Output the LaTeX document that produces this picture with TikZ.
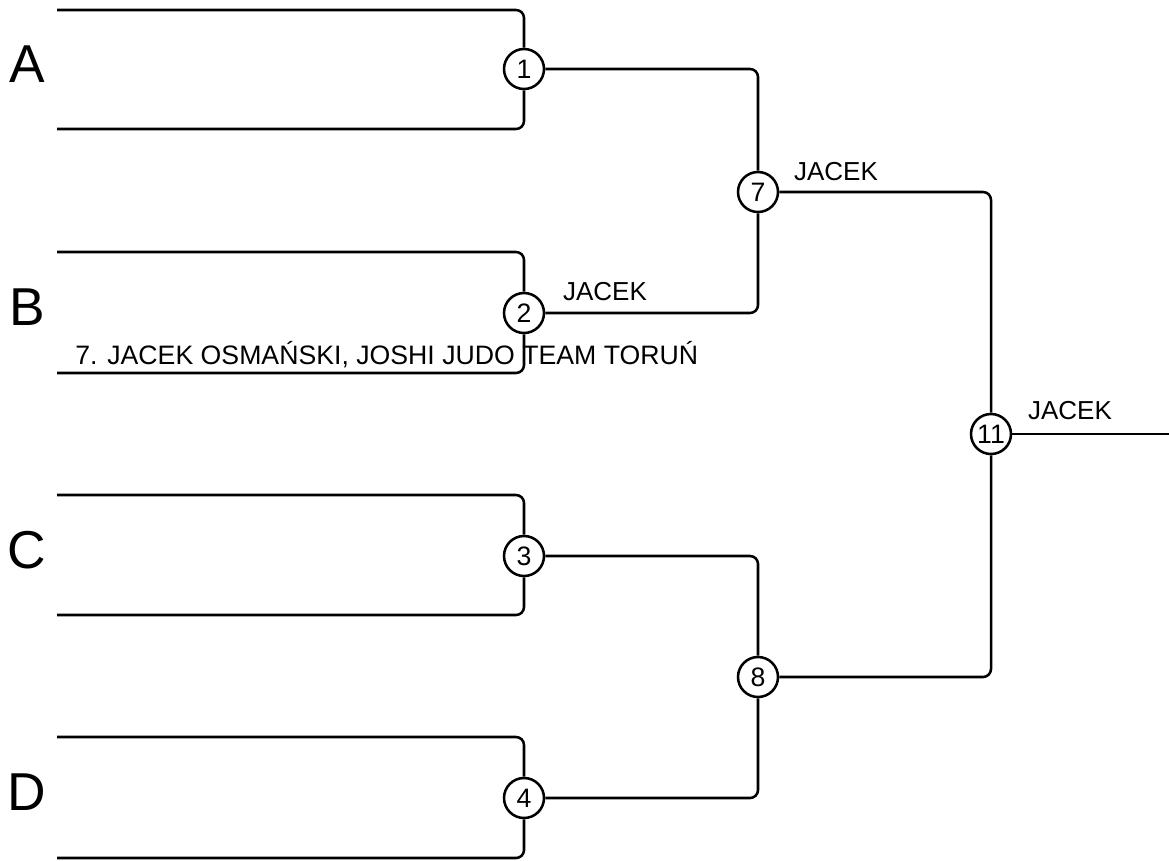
\documentclass[tikz,border=0pt]{standalone}
\usepackage{fontspec}
\setmainfont{Liberation Sans}
\begin{document}
\begin{tikzpicture}[x=0.75pt,y=-0.75pt,
  line/.style={line width=1.9pt,rounded corners=6pt},
  match/.style={circle,draw,line width=1.9pt,minimum size=30pt,inner sep=0pt,font=\fontsize{20}{22}\selectfont,fill=white},
  lbl/.style={inner sep=0pt,font=\fontsize{19.5}{22}\selectfont},
  big/.style={inner sep=0pt,font=\fontsize{40}{44}\selectfont}]
\useasboundingbox (0,0) rectangle (1169,860);
% match nodes
\node[match] (c1) at (524,69) {1};
\node[match] (c2) at (524,313) {2};
\node[match] (c3) at (524,556) {3};
\node[match] (c4) at (524,798) {4};
\node[match] (c7) at (758,192) {7};
\node[match] (c8) at (758,677) {8};
\node[match] (c11) at (991,434) {11};
% free ends of brackets
\coordinate (aT) at (57,10);  \coordinate (aB) at (57,129);
\coordinate (bT) at (57,252); \coordinate (bB) at (57,373);
\coordinate (cT) at (57,495); \coordinate (cB) at (57,615);
\coordinate (dT) at (57,737); \coordinate (dB) at (57,858);
\coordinate (fin) at (1169,434);
% brackets
\draw[line] (aT) -- (aT -| c1) -- (c1.north);
\draw[line] (aB) -- (aB -| c1) -- (c1.south);
\draw[line] (bT) -- (bT -| c2) -- (c2.north);
\draw[line] (bB) -- (bB -| c2) -- (c2.south);
\draw[line] (cT) -- (cT -| c3) -- (c3.north);
\draw[line] (cB) -- (cB -| c3) -- (c3.south);
\draw[line] (dT) -- (dT -| c4) -- (c4.north);
\draw[line] (dB) -- (dB -| c4) -- (c4.south);
% connectors
\draw[line] (c1.east) -- (c1.east -| c7) -- (c7.north);
\draw[line] (c2.east) -- (c2.east -| c7) -- (c7.south);
\draw[line] (c3.east) -- (c3.east -| c8) -- (c8.north);
\draw[line] (c4.east) -- (c4.east -| c8) -- (c8.south);
\draw[line] (c7.east) -- (c7.east -| c11) -- (c11.north);
\draw[line] (c8.east) -- (c8.east -| c11) -- (c11.south);
\draw[line] (c11.east) -- (fin);
% letters
\node[big] (lA) at (27,64) {A};
\node[big] (lB) at (27,307) {B};
\node[big] (lC) at (27,550) {C};
\node[big] (lD) at (27,792) {D};
% labels
\node[lbl] (j2) at (605,292) {JACEK};
\node[lbl] (j7) at (836,172) {JACEK};
\node[lbl] (j11) at (1070,411) {JACEK};
\node[lbl,font=\fontsize{20}{22}\selectfont,anchor=base west] (name) at (75,364) {7. JACEK OSMAŃSKI, JOSHI JUDO TEAM TORUŃ};
\end{tikzpicture}
\end{document}
